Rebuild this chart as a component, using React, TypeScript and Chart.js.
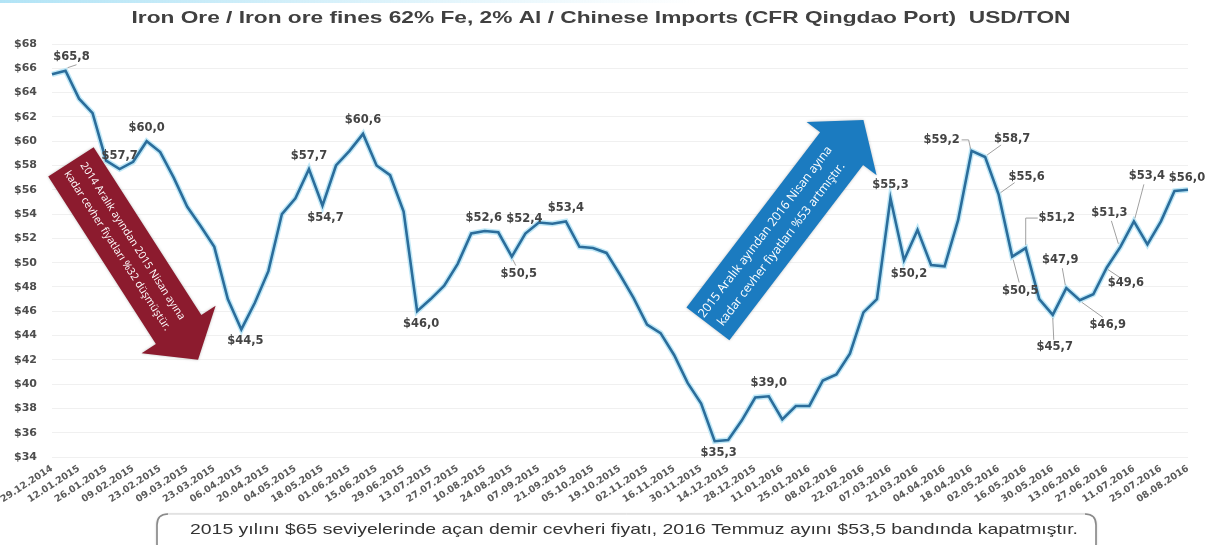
import React, { useEffect, useRef } from 'react';
import { Chart, registerables } from 'chart.js';

Chart.register(...registerables);

// ---------------- DATA ----------------
const TITLE = 'Iron Ore / Iron ore fines 62% Fe, 2% Al / Chinese Imports (CFR Qingdao Port)  USD/TON';
const CAPTION = '2015 yılını $65 seviyelerinde açan demir cevheri fiyatı, 2016 Temmuz ayını $53,5 bandında kapatmıştır.';

const WEEKS: string[] = [
  '29.12.2014', '05.01.2015', '12.01.2015', '19.01.2015', '26.01.2015', '02.02.2015', '09.02.2015', '16.02.2015',
  '23.02.2015', '02.03.2015', '09.03.2015', '16.03.2015', '23.03.2015', '30.03.2015', '06.04.2015', '13.04.2015',
  '20.04.2015', '27.04.2015', '04.05.2015', '11.05.2015', '18.05.2015', '25.05.2015', '01.06.2015', '08.06.2015',
  '15.06.2015', '22.06.2015', '29.06.2015', '06.07.2015', '13.07.2015', '20.07.2015', '27.07.2015', '03.08.2015',
  '10.08.2015', '17.08.2015', '24.08.2015', '31.08.2015', '07.09.2015', '14.09.2015', '21.09.2015', '28.09.2015',
  '05.10.2015', '12.10.2015', '19.10.2015', '26.10.2015', '02.11.2015', '09.11.2015', '16.11.2015', '23.11.2015',
  '30.11.2015', '07.12.2015', '14.12.2015', '21.12.2015', '28.12.2015', '04.01.2016', '11.01.2016', '18.01.2016',
  '25.01.2016', '01.02.2016', '08.02.2016', '15.02.2016', '22.02.2016', '29.02.2016', '07.03.2016', '14.03.2016',
  '21.03.2016', '28.03.2016', '04.04.2016', '11.04.2016', '18.04.2016', '25.04.2016', '02.05.2016', '09.05.2016',
  '16.05.2016', '23.05.2016', '30.05.2016', '06.06.2016', '13.06.2016', '20.06.2016', '27.06.2016', '04.07.2016',
  '11.07.2016', '18.07.2016', '25.07.2016', '01.08.2016', '08.08.2016',
];

const PRICES: number[] = [
  65.5, 65.8, 63.5, 62.3, 58.4, 57.7, 58.3, 60.0, 59.1, 57.0,
  54.6, 53.0, 51.3, 47.0, 44.5, 46.7, 49.3, 54.0, 55.3, 57.7,
  54.7, 58.0, 59.2, 60.6, 58.0, 57.2, 54.2, 46.0, 47.0, 48.1,
  49.9, 52.4, 52.6, 52.5, 50.5, 52.4, 53.3, 53.2, 53.4, 51.3,
  51.2, 50.8, 49.0, 47.1, 44.9, 44.2, 42.4, 40.1, 38.4, 35.3,
  35.4, 37.0, 38.9, 39.0, 37.1, 38.2, 38.2, 40.3, 40.8, 42.5,
  45.9, 47.0, 55.3, 50.2, 52.7, 49.8, 49.7, 53.5, 59.2, 58.7,
  55.6, 50.5, 51.2, 47.0, 45.7, 47.9, 46.9, 47.4, 49.6, 51.3,
  53.4, 51.5, 53.4, 55.9, 56.0,
];

const Y_MIN = 34;
const Y_MAX = 68;
const Y_STEP = 2;

const ARROW_TEXT_DOWN = ['2014 Aralık ayından 2015 Nisan ayına', 'kadar cevher fiyatları %32 düşmüştür.'];
const ARROW_TEXT_UP = ['2015 Aralık ayından 2016 Nisan ayına', 'kadar cevher fiyatları %53 artmıştır.'];

// ---------------- LAYOUT / STYLE ----------------
// value-label placement (pixel offsets from the point) and optional leader lines
const LABEL_LAYOUT: Record<number, { dx: number; dy: number; lead?: number[][] }> = {
  1: { dx: 6, dy: -14, lead: [[2, -3], [11, -6]] },
  5: { dx: 0, dy: -13 },
  7: { dx: 0, dy: -13 },
  14: { dx: 4, dy: 12 },
  19: { dx: 0, dy: -13 },
  20: { dx: 3, dy: 12 },
  23: { dx: 0, dy: -14 },
  27: { dx: 4, dy: 13 },
  32: { dx: -1, dy: -13 },
  34: { dx: 7, dy: 17, lead: [[1, 3], [4, 9]] },
  35: { dx: -1, dy: -14 },
  38: { dx: 0, dy: -13 },
  49: { dx: 4, dy: 12 },
  53: { dx: 0, dy: -13 },
  62: { dx: 0, dy: -13 },
  63: { dx: 5, dy: 14 },
  68: { dx: -30, dy: -11, lead: [[-10, -11], [-3, -11], [-1, -2]] },
  69: { dx: 27, dy: -18, lead: [[2, -2], [16, -12]] },
  70: { dx: 28, dy: -18, lead: [[2, -2], [16, -12]] },
  71: { dx: 8, dy: 34, lead: [[1, 3], [7, 26]] },
  72: { dx: 31, dy: -30, lead: [[0, -3], [0, -30], [12, -30]] },
  74: { dx: 2, dy: 32, lead: [[0, 3], [1, 25]] },
  75: { dx: -6, dy: -28, lead: [[-1, -3], [-4, -20]] },
  76: { dx: 28, dy: 25, lead: [[2, 2], [23, 17]] },
  78: { dx: 19, dy: 16, lead: [[1, 2], [13, 10]] },
  79: { dx: -11, dy: -34, lead: [[-2, -3], [-9, -26]] },
  80: { dx: 13, dy: -45, lead: [[1, -3], [10, -37]] },
  84: { dx: -1, dy: -12 },
};

// arrows anchored in (category index, value) space
const ARROWS = [
  { from: [1.4, 58.3], to: [10.8, 42.0], color: '#8c1b2e', lines: ARROW_TEXT_DOWN, body: 27, head: 44, headLen: 36, textLen: 185, textAt: 100, gap: 9 },
  { from: [48.5, 44.95], to: [60.0, 61.75], color: '#1b7bc0', lines: ARROW_TEXT_UP, body: 27, head: 44, headLen: 36, textLen: 212, textAt: 108, gap: 10 },
];

const fmt = (v: number) => '$' + v.toFixed(1).replace('.', ',');

const decorPlugin = {
  id: 'decor',
  afterDatasetsDraw(chart: any) {
    const ctx: CanvasRenderingContext2D = chart.ctx;
    const meta = chart.getDatasetMeta(1);
    const xs = chart.scales.x;
    const ys = chart.scales.y;

    // value labels
    ctx.save();
    ctx.font = 'bold 11.5px "DejaVu Sans"';
    ctx.fillStyle = '#444';
    ctx.textAlign = 'center';
    ctx.textBaseline = 'middle';
    Object.keys(LABEL_LAYOUT).forEach((k) => {
      const i = Number(k);
      const pt = meta.data[i];
      if (!pt) return;
      const L = LABEL_LAYOUT[i];
      if (L.lead) {
        ctx.beginPath();
        ctx.strokeStyle = '#a0a0a0';
        ctx.lineWidth = 1;
        L.lead.forEach((p, j) => {
          if (j === 0) ctx.moveTo(pt.x + p[0], pt.y + p[1]);
          else ctx.lineTo(pt.x + p[0], pt.y + p[1]);
        });
        ctx.stroke();
      }
      ctx.fillText(fmt(PRICES[i]), pt.x + L.dx, pt.y + L.dy);
    });
    ctx.restore();

    // arrows
    ARROWS.forEach((a) => {
      const x0 = xs.getPixelForValue(a.from[0]);
      const y0 = ys.getPixelForValue(a.from[1]);
      const x1 = xs.getPixelForValue(a.to[0]);
      const y1 = ys.getPixelForValue(a.to[1]);
      const ang = Math.atan2(y1 - y0, x1 - x0);
      const len = Math.hypot(x1 - x0, y1 - y0);
      ctx.save();
      ctx.translate(x0, y0);
      ctx.rotate(ang);
      ctx.shadowColor = 'rgba(0,0,0,0.25)';
      ctx.shadowBlur = 3;
      ctx.beginPath();
      ctx.moveTo(0, -a.body);
      ctx.lineTo(len - a.headLen, -a.body);
      ctx.lineTo(len - a.headLen, -a.head);
      ctx.lineTo(len, 0);
      ctx.lineTo(len - a.headLen, a.head);
      ctx.lineTo(len - a.headLen, a.body);
      ctx.lineTo(0, a.body);
      ctx.closePath();
      ctx.fillStyle = a.color;
      ctx.fill();
      ctx.shadowBlur = 0;
      ctx.shadowColor = 'transparent';
      ctx.font = '10px "Open Sans"';
      const w = ctx.measureText(a.lines[0]).width;
      const size = (10 * a.textLen) / w;
      ctx.font = `${size}px "Open Sans"`;
      ctx.fillStyle = '#ffffff';
      ctx.textAlign = 'center';
      ctx.textBaseline = 'middle';
      ctx.fillText(a.lines[0], a.textAt, -a.gap);
      ctx.fillText(a.lines[1], a.textAt, a.gap);
      ctx.restore();
    });
  },
  afterDraw(chart: any) {
    const ctx: CanvasRenderingContext2D = chart.ctx;
    // top strip
    ctx.save();
    const g = ctx.createLinearGradient(0, 0, 700, 0);
    g.addColorStop(0, 'rgba(170,225,245,0.9)');
    g.addColorStop(1, 'rgba(170,225,245,0)');
    ctx.fillStyle = g;
    ctx.fillRect(0, 0, 700, 3);
    ctx.restore();

    // title (horizontally fitted)
    ctx.save();
    ctx.font = 'bold 16.5px "Liberation Sans"';
    ctx.fillStyle = '#404040';
    ctx.textAlign = 'center';
    ctx.textBaseline = 'middle';
    const tw = ctx.measureText(TITLE).width;
    ctx.translate(601, 18);
    ctx.scale(939 / tw, 1);
    ctx.fillText(TITLE, 0, 0);
    ctx.restore();

    // caption box
    ctx.save();
    const bx = 157, by = 514, bw = 939, bh = 40, r = 11;
    ctx.beginPath();
    ctx.moveTo(bx + r, by);
    ctx.lineTo(bx + bw - r, by);
    ctx.quadraticCurveTo(bx + bw, by, bx + bw, by + r);
    ctx.lineTo(bx + bw, by + bh - r);
    ctx.quadraticCurveTo(bx + bw, by + bh, bx + bw - r, by + bh);
    ctx.lineTo(bx + r, by + bh);
    ctx.quadraticCurveTo(bx, by + bh, bx, by + bh - r);
    ctx.lineTo(bx, by + r);
    ctx.quadraticCurveTo(bx, by, bx + r, by);
    ctx.closePath();
    ctx.fillStyle = '#ffffff';
    ctx.shadowColor = 'rgba(0,0,0,0.35)';
    ctx.shadowBlur = 3;
    ctx.shadowOffsetY = 1;
    ctx.fill();
    ctx.shadowColor = 'transparent';
    ctx.strokeStyle = '#d0d0d0';
    ctx.lineWidth = 1;
    ctx.stroke();
    ctx.strokeStyle = '#8a8a8a';
    ctx.lineWidth = 1.6;
    ctx.beginPath();
    ctx.moveTo(bx + r, by);
    ctx.quadraticCurveTo(bx, by, bx, by + r);
    ctx.lineTo(bx, by + bh);
    ctx.stroke();
    ctx.beginPath();
    ctx.moveTo(bx + bw - r, by);
    ctx.quadraticCurveTo(bx + bw, by, bx + bw, by + r);
    ctx.lineTo(bx + bw, by + bh);
    ctx.stroke();
    ctx.font = '15px "Liberation Sans"';
    ctx.fillStyle = '#333';
    ctx.textAlign = 'center';
    ctx.textBaseline = 'middle';
    const cw = ctx.measureText(CAPTION).width;
    ctx.translate(634, 530);
    ctx.scale(888 / cw, 1);
    ctx.fillText(CAPTION, 0, 0);
    ctx.restore();
  },
};

export default function App() {
  const ref = useRef<HTMLCanvasElement | null>(null);
  useEffect(() => {
    if (!ref.current) return;
    const chart = new Chart(ref.current, {
      type: 'line',
      data: {
        labels: WEEKS,
        datasets: [
          {
            data: PRICES,
            borderColor: 'rgba(165,222,243,0.7)',
            borderWidth: 5.5,
            pointRadius: 0,
            tension: 0,
            fill: false,
            order: 2,
          },
          {
            data: PRICES,
            borderColor: '#2b6d9b',
            borderWidth: 2.6,
            pointRadius: 0,
            tension: 0,
            fill: false,
            order: 1,
          },
        ],
      },
      options: {
        animation: false,
        responsive: false,
        devicePixelRatio: 1,
        events: [],
        layout: { padding: { top: 44, right: 25, bottom: 0, left: 0 } },
        plugins: {
          legend: { display: false },
          title: { display: false },
          tooltip: { enabled: false },
        },
        scales: {
          x: {
            grid: { display: false, drawTicks: false },
            border: { display: false },
            ticks: {
              autoSkip: false,
              maxRotation: 33,
              minRotation: 33,
              padding: 6,
              color: '#5a5a5a',
              font: { family: 'DejaVu Sans', size: 9.5, weight: 'bold' },
              callback: (_v: any, idx: number) => (idx % 2 === 0 ? WEEKS[idx] : ''),
            },
            afterFit: (s: any) => {
              s.height = 88;
              s.paddingLeft = 0;
              s.paddingRight = 0;
            },
          },
          y: {
            min: Y_MIN,
            max: Y_MAX,
            grid: { color: '#f0f0f0', drawTicks: false },
            border: { display: false },
            ticks: {
              stepSize: Y_STEP,
              padding: 15,
              color: '#4d4d4d',
              font: { family: 'DejaVu Sans', size: 11, weight: 'bold' },
              callback: (v: any) => '$' + v,
            },
            afterFit: (s: any) => {
              s.width = 52;
              s.paddingTop = 0;
              s.paddingBottom = 0;
            },
          },
        },
      },
      plugins: [decorPlugin],
    });
    return () => chart.destroy();
  }, []);

  return (
    <div style={{ position: 'absolute', left: 0, top: 0, width: 1213, height: 545, background: '#fff' }}>
      <canvas ref={ref} width={1213} height={545} style={{ display: 'block' }} />
    </div>
  );
}
